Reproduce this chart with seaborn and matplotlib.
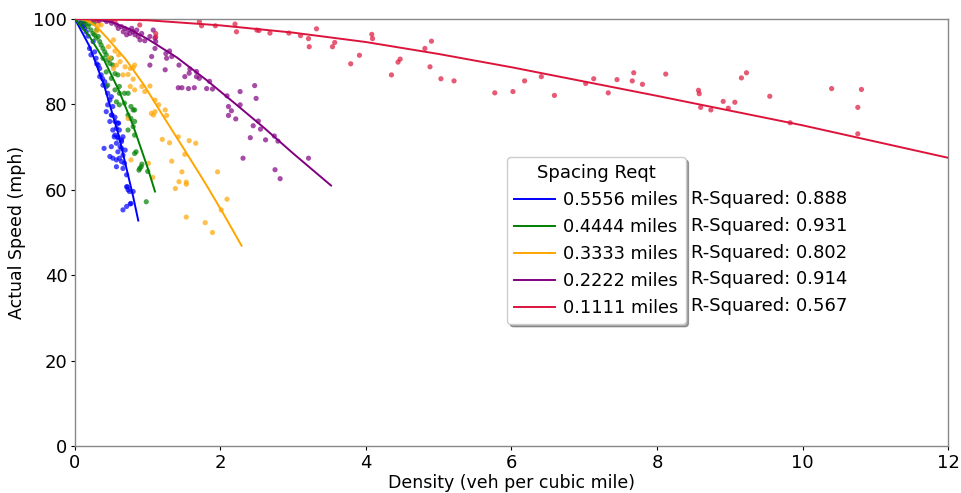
import matplotlib
matplotlib.use("Agg")
import matplotlib.pyplot as plt
import seaborn as sns
import pandas as pd

# ---------------- data ----------------
series_labels = ["0.5556 miles", "0.4444 miles", "0.3333 miles", "0.2222 miles", "0.1111 miles"]
series_colors = ["blue", "green", "orange", "purple", "crimson"]
r_squared = [0.888, 0.931, 0.802, 0.914, 0.567]

blue_pts = [(0.05, 99.6), (0.087, 99.0), (0.11, 98.2), (0.13, 97.8), (0.155, 97.0), (0.20, 93.1),
            (0.25, 94.7), (0.22, 91.6), (0.27, 92.3), (0.29, 90.8), (0.32, 89.2), (0.34, 88.4),
            (0.36, 86.9), (0.34, 86.5), (0.41, 85.3), (0.385, 84.5), (0.43, 84.2), (0.45, 82.6),
            (0.50, 81.8), (0.48, 81.0), (0.45, 79.9), (0.52, 79.5), (0.43, 78.3), (0.50, 77.5),
            (0.48, 76.0), (0.55, 76.0), (0.59, 75.6), (0.57, 74.4), (0.52, 74.0), (0.61, 74.0),
            (0.55, 72.8), (0.59, 72.4), (0.64, 71.7), (0.40, 69.7), (0.48, 67.8), (0.52, 67.4),
            (0.57, 67.0), (0.61, 67.4), (0.57, 65.4), (0.64, 69.7), (0.66, 68.1), (0.59, 68.9),
            (0.50, 70.1), (0.64, 66.6), (0.68, 66.2), (0.66, 65.0), (0.71, 60.7), (0.73, 60.0),
            (0.75, 59.6), (0.77, 56.8), (0.71, 56.1), (0.66, 55.3), (0.60, 75.6), (0.54, 72.4),
            (0.59, 72.1), (0.66, 72.4), (0.64, 71.3), (0.57, 70.9), (0.62, 70.1), (0.69, 69.3),
            (0.71, 63.5), (0.72, 60.7), (0.80, 59.6), (0.76, 56.7), (0.51, 77.5), (0.55, 77.0),
            (0.12, 98.8), (0.18, 96.0), (0.30, 89.5), (0.38, 86.0)]

green_pts = [(0.10, 99.3), (0.14, 98.8), (0.18, 98.2), (0.22, 97.4), (0.25, 96.6), (0.27, 96.3),
             (0.29, 95.5), (0.32, 95.9), (0.34, 94.7), (0.36, 93.9), (0.385, 93.1), (0.41, 92.3),
             (0.43, 91.6), (0.385, 90.8), (0.45, 90.4), (0.50, 90.8), (0.48, 89.6), (0.52, 89.2),
             (0.43, 87.6), (0.55, 87.2), (0.50, 86.1), (0.59, 86.9), (0.61, 84.2), (0.45, 84.5),
             (0.55, 83.4), (0.61, 82.6), (0.68, 82.6), (0.73, 82.6), (0.57, 80.6), (0.61, 79.9),
             (0.68, 80.3), (0.77, 79.5), (0.80, 78.7), (0.73, 77.5), (0.77, 76.7), (0.82, 76.0),
             (0.80, 74.8), (0.73, 74.0), (0.84, 68.9), (0.89, 65.0), (0.91, 65.4), (0.98, 57.2),
             (0.82, 72.8), (0.82, 68.5), (0.92, 66.0), (0.88, 64.6), (1.00, 64.3), (0.82, 78.7),
             (0.20, 98.9), (0.30, 97.5), (0.26, 99.0), (0.15, 99.6)]

orange_pts = [(0.32, 98.6), (0.30, 97.2), (0.53, 95.1), (0.46, 93.5), (0.55, 92.5), (0.60, 91.6),
              (0.48, 90.9), (0.62, 90.0), (0.57, 89.2), (0.53, 88.4), (0.69, 88.8), (0.66, 86.9),
              (0.76, 88.4), (0.80, 88.6), (0.82, 89.2), (0.73, 87.0), (0.76, 84.2), (0.80, 85.9),
              (0.82, 83.4), (0.92, 84.2), (0.96, 83.0), (1.03, 84.3), (1.10, 81.0), (1.15, 79.9),
              (1.24, 78.7), (1.10, 78.3), (1.05, 77.9), (1.08, 77.5), (1.26, 77.4), (1.20, 71.8),
              (1.30, 71.0), (1.42, 72.4), (1.57, 71.5), (1.66, 70.9), (1.51, 68.3), (1.33, 66.7),
              (1.47, 64.2), (1.43, 61.9), (1.53, 61.8), (1.53, 61.3), (1.38, 60.3), (1.96, 64.2),
              (2.09, 57.8), (2.01, 55.3), (1.53, 53.6), (1.79, 52.3), (1.89, 50.0), (1.07, 62.9),
              (1.01, 66.2), (0.77, 67.0), (0.73, 76.7), (0.36, 98.6), (0.20, 99.5), (0.25, 99.8)]

purple_pts = [(0.25, 99.8), (0.33, 99.6), (0.435, 99.4), (0.504, 99.0), (0.573, 98.6), (0.64, 98.2),
              (0.687, 97.8), (0.733, 97.4), (0.756, 96.6), (0.80, 97.0), (0.825, 96.3), (0.87, 95.9),
              (0.917, 96.6), (0.78, 97.8), (0.595, 97.8), (0.664, 97.0), (0.71, 96.3), (0.85, 97.4),
              (0.894, 95.1), (1.076, 97.4), (1.054, 91.2), (1.10, 95.5), (1.03, 95.9), (1.11, 94.7),
              (1.10, 93.1), (1.03, 89.2), (1.25, 91.9), (1.30, 92.5), (1.26, 90.8), (1.24, 88.1),
              (1.43, 89.2), (1.51, 86.5), (1.58, 88.3), (1.57, 87.3), (1.67, 87.7), (1.67, 86.5),
              (1.71, 86.1), (1.64, 83.9), (1.42, 83.9), (1.47, 83.9), (1.56, 83.7), (1.81, 83.7),
              (1.85, 85.4), (1.89, 83.6), (2.09, 82.0), (2.27, 83.0), (2.11, 79.5), (2.15, 78.5),
              (2.11, 77.4), (2.21, 76.6), (2.27, 79.9), (2.47, 84.4), (2.49, 81.4), (2.52, 76.1),
              (2.41, 72.2), (2.45, 75.0), (2.55, 74.2), (2.62, 71.7), (2.74, 72.6), (2.79, 71.4),
              (3.21, 67.4), (2.75, 64.7), (2.82, 62.6), (2.31, 67.4), (0.96, 94.9), (0.50, 99.9),
              (1.33, 91.2)]

red_pts = [(0.30, 99.6), (0.55, 99.5), (0.89, 98.6), (1.11, 96.6), (1.11, 95.8), (1.71, 99.4),
           (1.74, 98.4), (1.93, 98.4), (2.20, 98.8), (2.22, 97.0), (2.50, 97.4), (2.53, 97.3),
           (2.68, 96.7), (2.94, 96.7), (3.10, 96.1), (3.21, 95.4), (3.22, 93.5), (3.32, 97.7),
           (3.54, 93.5), (3.57, 94.5), (3.79, 89.5), (3.91, 91.5), (4.08, 96.4), (4.09, 95.4),
           (4.35, 86.9), (4.44, 89.9), (4.47, 90.6), (4.81, 93.1), (4.90, 94.8), (4.88, 88.8),
           (5.03, 86.0), (5.21, 85.5), (5.77, 82.7), (6.02, 83.0), (6.18, 85.5), (6.41, 86.5),
           (6.59, 82.1), (7.02, 84.9), (7.13, 86.0), (7.33, 82.7), (7.45, 85.8), (7.66, 85.5),
           (7.68, 87.4), (7.80, 84.7), (8.12, 87.1), (8.57, 83.3), (8.58, 82.5), (8.60, 79.3),
           (8.74, 78.7), (8.91, 80.7), (8.98, 79.1), (9.07, 80.5), (9.16, 86.2), (9.23, 87.4),
           (9.55, 81.9), (9.83, 75.7), (10.40, 83.7), (10.76, 79.3), (10.81, 83.5), (10.76, 73.1)]

# fitted curves
blue_fit_x = [0, 0.2, 0.4, 0.6, 0.8, 0.87]
blue_fit_y = [100, 93.6, 84.5, 72.8, 58.4, 52.8]
green_fit_x = [0, 0.2, 0.4, 0.6, 0.8, 1.0, 1.1]
green_fit_y = [100, 95.9, 90.4, 83.4, 75.0, 65.1, 59.6]
orange_fit_x = [0, 0.1, 0.2, 0.32, 0.45, 0.7, 0.95, 1.2, 1.5, 1.8, 2.05, 2.29]
orange_fit_y = [100, 99.9, 99.4, 97.8, 95.4, 90.5, 84.5, 77.6, 69.5, 61.3, 54.1, 46.9]
purple_fit_x = [0, 0.25, 0.5, 0.75, 1.0, 1.4, 1.8, 2.2, 2.6, 3.0, 3.52]
purple_fit_y = [100, 99.9, 99.3, 97.6, 95.3, 91.0, 85.8, 80.2, 74.5, 68.5, 61.0]
red_fit_x = [0, 1, 2, 3, 4, 5, 6, 8, 10, 12]
red_fit_y = [100, 99.7, 98.5, 96.8, 94.6, 91.8, 88.7, 82.0, 75.1, 67.5]

x_ticks = [0, 2, 4, 6, 8, 10, 12]
y_ticks = [0, 20, 40, 60, 80, 100]

# ---------------- build tables ----------------
all_pts = [blue_pts, green_pts, orange_pts, purple_pts, red_pts]
all_fits = [(blue_fit_x, blue_fit_y), (green_fit_x, green_fit_y), (orange_fit_x, orange_fit_y),
            (purple_fit_x, purple_fit_y), (red_fit_x, red_fit_y)]

scatter_rows = []
for lab, pts in zip(series_labels, all_pts):
    for x, y in pts:
        scatter_rows.append({"density": x, "speed": y, "spacing": lab})
scatter_df = pd.DataFrame(scatter_rows)

fit_rows = []
for lab, (fx, fy) in zip(series_labels, all_fits):
    for x, y in zip(fx, fy):
        fit_rows.append({"density": x, "speed": y, "spacing": lab})
fit_df = pd.DataFrame(fit_rows)

palette = dict(zip(series_labels, series_colors))

# ---------------- plot ----------------
fig = plt.figure(figsize=(9.61, 4.93), dpi=100)
ax = fig.add_axes([0.078, 0.0953, 0.9085, 0.8662])

sns.scatterplot(data=scatter_df, x="density", y="speed", hue="spacing", palette=palette,
                s=14, alpha=0.7, edgecolor="none", legend=False, ax=ax, zorder=2)
sns.lineplot(data=fit_df, x="density", y="speed", hue="spacing", palette=palette,
             linewidth=1.4, sort=True, estimator=None, ax=ax, zorder=3)

ax.set_xlim(0, 12)
ax.set_ylim(0, 100)
ax.set_xticks(x_ticks)
ax.set_yticks(y_ticks)
ax.tick_params(labelsize=13, direction="out", length=3, pad=2.5, color="black")
ax.set_xlabel("Density (veh per cubic mile)", fontsize=12.5, labelpad=2)
ax.set_ylabel("Actual Speed (mph)", fontsize=12.5, labelpad=5)
for sp in ax.spines.values():
    sp.set_color("#888888")
    sp.set_linewidth(1.0)

handles, labels = ax.get_legend_handles_labels()
leg = ax.legend(handles, labels, title="Spacing Reqt", loc="upper left",
                bbox_to_anchor=(0.485, 0.697), fontsize=12.8, title_fontsize=13,
                handlelength=2.3, handletextpad=0.45, labelspacing=0.5,
                shadow=True, framealpha=1.0, edgecolor="#cccccc")

row_y = [57.8, 51.5, 45.2, 39.1, 32.8]
for ry, r2 in zip(row_y, r_squared):
    ax.text(8.47, ry, f"R-Squared: {r2:.3f}", fontsize=13, va="center", ha="left")

fig.savefig("out.png", dpi=100)
